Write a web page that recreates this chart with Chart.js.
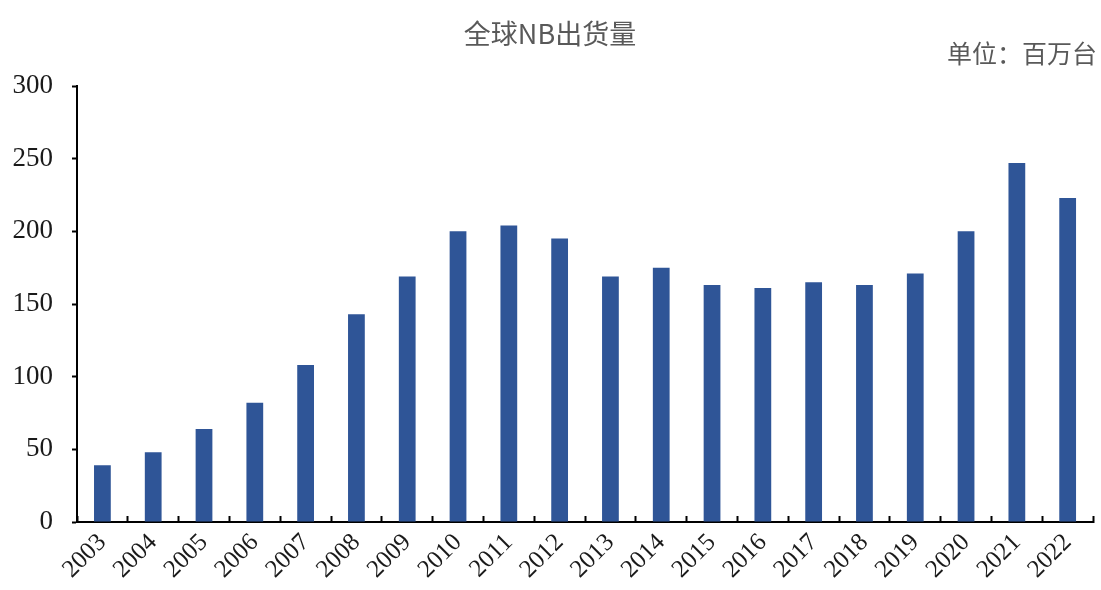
<!DOCTYPE html>
<html>
<head>
<meta charset="utf-8">
<script src="https://cdn.jsdelivr.net/npm/chart.js@4/dist/chart.umd.min.js"></script>
<style>
  html, body { margin: 0; padding: 0; background: #fff; }
  #wrap { width: 1101px; height: 590px; position: relative; }
</style>
</head>
<body>
<div id="wrap"><canvas id="bars"></canvas></div>
<script>
const years = ['2003', '2004', '2005', '2006', '2007', '2008', '2009', '2010', '2011', '2012',
  '2013', '2014', '2015', '2016', '2017', '2018', '2019', '2020', '2021', '2022'];
const shipments = [39, 48, 64, 82, 108, 143, 169, 200, 204, 195,
  169, 175, 163, 161, 165, 163, 171, 200, 247, 223];
const yTicks = [0, 50, 100, 150, 200, 250, 300];
const titleText = '全球NB出货量';
const unitText = '单位：百万台';

const cjk = '"Noto Sans CJK SC", "Noto Sans", sans-serif';
const serif = '"Liberation Serif", "Times New Roman", serif';

// title and unit label drawn on the canvas
const headerText = {
  id: 'headerText',
  afterDraw(chart) {
    const ctx = chart.ctx;
    ctx.save();
    ctx.fillStyle = '#595959';
    ctx.textBaseline = 'middle';
    ctx.font = '27px ' + cjk;
    ctx.textAlign = 'center';
    ctx.fillText(titleText, 550, 34);
    ctx.font = '25px ' + cjk;
    ctx.textAlign = 'right';
    ctx.fillText(unitText, 1097, 53);
    ctx.restore();
  },
};

const initBars = () => {
  const data = {
    labels: years,
    datasets: [{
      data: shipments,
      backgroundColor: 'rgb(47, 85, 151)',
      borderWidth: 0,
      barPercentage: 0.33,
      categoryPercentage: 1,
    }],
  };

  const config = {
    type: 'bar',
    data: data,
    plugins: [headerText],
    options: {
      responsive: false,
      animation: false,
      layout: {
        padding: { top: 86, right: 5, left: 0, bottom: 0 },
      },
      plugins: {
        legend: { display: false },
        tooltip: { enabled: false },
      },
      scales: {
        x: {
          grid: {
            offset: true,
            drawOnChartArea: false,
            tickLength: -6,
            tickColor: '#000',
            tickWidth: 2,
          },
          border: { color: '#000', width: 2 },
          ticks: {
            color: '#1a1a1a',
            font: { family: serif, size: 25 },
            maxRotation: 45,
            minRotation: 45,
            padding: 12,
          },
          afterFit: (scale) => { scale.height = 68; },
        },
        y: {
          min: 0,
          max: 300,
          afterBuildTicks: (scale) => {
            scale.ticks = yTicks.map((v) => ({ value: v }));
          },
          grid: {
            drawOnChartArea: false,
            tickLength: 5,
            tickColor: '#000',
            tickWidth: 2,
          },
          border: { color: '#000', width: 2 },
          ticks: {
            color: '#1a1a1a',
            font: { family: serif, size: 27 },
            padding: 19,
          },
          afterFit: (scale) => { scale.width = 77; },
        },
      },
    },
  };

  const canvas = document.getElementById('bars');
  canvas.width = 1101;
  canvas.height = 590;
  new Chart(canvas, config);
};

document.addEventListener('DOMContentLoaded', () => {
  if (!document.querySelector('#bars')) return;
  initBars();
});
</script>
</body>
</html>
